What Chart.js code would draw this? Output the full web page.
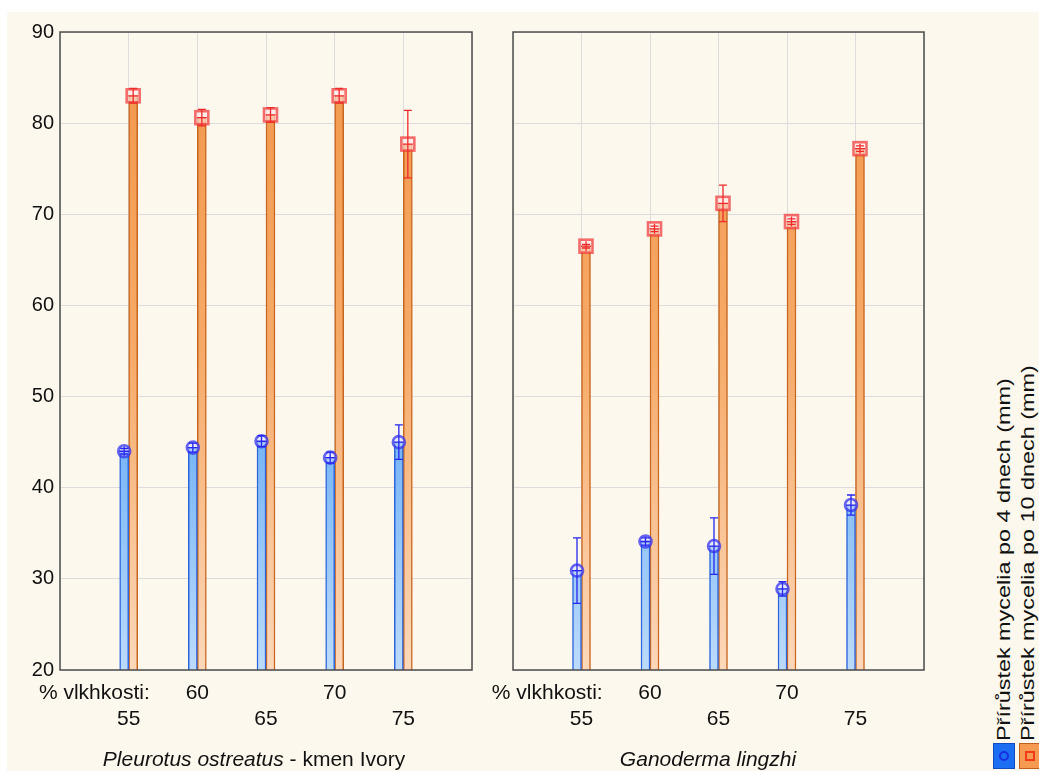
<!DOCTYPE html>
<html><head><meta charset="utf-8">
<script src="https://cdn.jsdelivr.net/npm/chart.js@4.4.1/dist/chart.umd.min.js"></script>
<style>
html,body{margin:0;padding:0;background:#fff;}
#page{position:relative;width:1039px;height:771px;overflow:hidden;background:#fff;}
#cream{position:absolute;left:7px;top:12px;right:0;bottom:0;background:#fdf8ed;}
canvas{position:absolute;top:0;}
#cA{left:0;}
#cB{left:490px;}
.title{position:absolute;top:747px;font:21px/24px "Liberation Sans",Arial,sans-serif;color:#111;white-space:nowrap;transform:translateX(-50%);}
.leg{position:absolute;font:18px/22px "Liberation Sans",Arial,sans-serif;white-space:nowrap;transform-origin:0 0;transform:rotate(-90deg) scaleX(1.3);color:#111;}
.sw{position:absolute;box-sizing:border-box;}
</style>
</head><body>
<div id="page">
<div id="cream"></div>
<canvas id="cA" width="490" height="771"></canvas>
<canvas id="cB" width="460" height="771"></canvas>
<div class="title" style="left:254px;"><i>Pleurotus ostreatus</i> - kmen Ivory</div>
<div class="title" style="left:708px;"><i>Ganoderma lingzhi</i></div>
<div class="leg" id="leg1" style="left:993px;top:741px;"></div>
<div class="leg" id="leg2" style="left:1017px;top:741px;"></div>
<div class="sw" style="left:993px;top:743px;width:22px;height:26px;background:#1c6ef2;border:1px solid #0f4cc4;">
  <div style="position:absolute;left:5px;top:7px;width:10px;height:10px;border:2px solid #1530e0;border-radius:50%;box-sizing:border-box;"></div>
</div>
<div class="sw" style="left:1019px;top:743px;width:22px;height:26px;background:#f59a50;border:1px solid #c0601c;">
  <div style="position:absolute;left:5px;top:7px;width:10px;height:10px;border:2.5px solid #f03a1a;box-sizing:border-box;"></div>
</div>
</div>
<script>
// ---- data ----
const categories = ['55', '60', '65', '70', '75'];
const yTickValues = [20, 30, 40, 50, 60, 70, 80, 90];
const legend4 = 'Přírůstek mycelia po 4 dnech (mm)';
const legend10 = 'Přírůstek mycelia po 10 dnech (mm)';
const xAxisLead = '% vlkhkosti:';
const pleurotus4 = [44.0, 44.4, 45.1, 43.3, 45.0];
const pleurotus4Err = [0.3, 0.5, 0.6, 0.6, 1.9];
const pleurotus10 = [83.0, 80.6, 80.9, 83.0, 77.7];
const pleurotus10Err = [0.8, 0.9, 0.8, 0.8, 3.7];
const ganoderma4 = [30.9, 34.1, 33.6, 28.9, 38.1];
const ganoderma4Err = [3.6, 0.4, 3.1, 0.8, 1.1];
const ganoderma10 = [66.5, 68.4, 71.2, 69.2, 77.2];
const ganoderma10Err = [0.2, 0.3, 2.0, 0.3, 0.3];

document.getElementById('leg1').textContent = legend4;
document.getElementById('leg2').textContent = legend10;

const FONT = '"Liberation Sans", Arial, sans-serif';
const axisLabels = ['', ...categories, ''];
const pad = a => [null, ...a, null];

function grad(stops) {
  return (c) => {
    const a = c.chart.chartArea;
    if (!a) return stops[0][1];
    const g = c.chart.ctx.createLinearGradient(0, a.top, 0, a.bottom);
    stops.forEach(s => g.addColorStop(s[0], s[1]));
    return g;
  };
}
const blueStops = [[0, '#3e8cf0'], [0.65, '#78b5f6'], [1, '#bcdbfb']];
const orangeStops = [[0, '#f2964a'], [0.5, '#f6aa68'], [1, '#fcd8ba']];

const overlay = {
  id: 'overlay',
  afterDatasetsDraw(chart) {
    const ctx = chart.ctx, ys = chart.scales.y, xs = chart.scales.x, a = chart.chartArea;
    ctx.save();
    chart.data.datasets.forEach((ds, di) => {
      const meta = chart.getDatasetMeta(di);
      meta.data.forEach((bar, i) => {
        const v = ds.data[i];
        if (v == null) return;
        const e = ds.err[i];
        const x = bar.x;
        const ym = ys.getPixelForValue(v), yt = ys.getPixelForValue(v + e), yb = ys.getPixelForValue(v - e);
        // marker
        ctx.lineWidth = 2.6;
        if (ds.marker === 'circle') {
          ctx.beginPath(); ctx.arc(x, ym, 6, 0, Math.PI * 2);
          ctx.fillStyle = 'rgba(215,222,255,0.55)'; ctx.fill();
          ctx.strokeStyle = 'rgba(45,45,240,0.72)'; ctx.stroke();
        } else {
          ctx.fillStyle = 'rgba(255,232,232,0.6)';
          ctx.fillRect(x - 6.5, ym - 6.5, 13, 13);
          ctx.strokeStyle = 'rgba(240,55,55,0.72)'; ctx.strokeRect(x - 6.5, ym - 6.5, 13, 13);
        }
        // error bar + cross
        ctx.strokeStyle = ds.errColor; ctx.lineWidth = 1.3;
        ctx.beginPath();
        ctx.moveTo(x, yt); ctx.lineTo(x, yb);
        ctx.moveTo(x - 4, yt); ctx.lineTo(x + 4, yt);
        ctx.moveTo(x - 4, yb); ctx.lineTo(x + 4, yb);
        ctx.moveTo(x - 5, ym); ctx.lineTo(x + 5, ym);
        ctx.moveTo(x, ym - 5); ctx.lineTo(x, ym + 5);
        ctx.stroke();
      });
    });
    // frame
    ctx.strokeStyle = '#4d4d4d'; ctx.lineWidth = 1.5;
    ctx.strokeRect(a.left, a.top, a.right - a.left, a.bottom - a.top);
    // axis lead label
    const px = (xs.getPixelForTick(0) + xs.getPixelForTick(1)) / 2;
    ctx.font = '21px ' + FONT; ctx.fillStyle = '#111';
    ctx.textAlign = 'center'; ctx.textBaseline = 'middle';
    ctx.fillText(xAxisLead, px, a.bottom + 23);
    ctx.restore();
  }
};

function makeChart(id, v4, e4, v10, e10, showY, padding) {
  return new Chart(document.getElementById(id), {
    type: 'bar',
    data: {
      labels: axisLabels,
      datasets: [
        { label: legend4, data: pad(v4), err: pad(e4), marker: 'circle', errColor: '#2626ee',
          backgroundColor: grad(blueStops), borderColor: '#2d66dc', borderWidth: 1.5, barThickness: 9 },
        { label: legend10, data: pad(v10), err: pad(e10), marker: 'square', errColor: '#f02a2a',
          backgroundColor: grad(orangeStops), borderColor: '#c8661f', borderWidth: 1.5, barThickness: 9 }
      ]
    },
    options: {
      responsive: false, animation: false, devicePixelRatio: 1,
      layout: { padding },
      plugins: { legend: { display: false }, tooltip: { enabled: false } },
      scales: {
        x: {
          offset: false,
          grid: { color: '#dcdcdc', drawTicks: false, offset: false },
          border: { display: false },
          ticks: {
            autoSkip: false, maxRotation: 0, minRotation: 0, padding: 10, color: '#111',
            font: { family: FONT, size: 21, lineHeight: 1.24 },
            callback: (val, i) => {
              const l = axisLabels[i];
              if (!l) return '';
              return (i % 2 === 0) ? [l, ''] : ['', l];
            }
          },
          afterFit: s => { s.height = 101; }
        },
        y: {
          min: 20, max: 90,
          afterBuildTicks: s => { s.ticks = yTickValues.map(v => ({ value: v })); },
          ticks: { display: showY, padding: 6, color: '#111', font: { family: FONT, size: 20 } },
          grid: { color: '#dcdcdc', drawTicks: false },
          border: { display: false },
          afterFit: s => { s.width = showY ? 60 : 0; }
        }
      }
    },
    plugins: [overlay]
  });
}

makeChart('cA', pleurotus4, pleurotus4Err, pleurotus10, pleurotus10Err, true, { top: 32, right: 18, bottom: 0, left: 0 });
makeChart('cB', ganoderma4, ganoderma4Err, ganoderma10, ganoderma10Err, false, { top: 32, right: 26, bottom: 0, left: 23 });
</script>
</body></html>
